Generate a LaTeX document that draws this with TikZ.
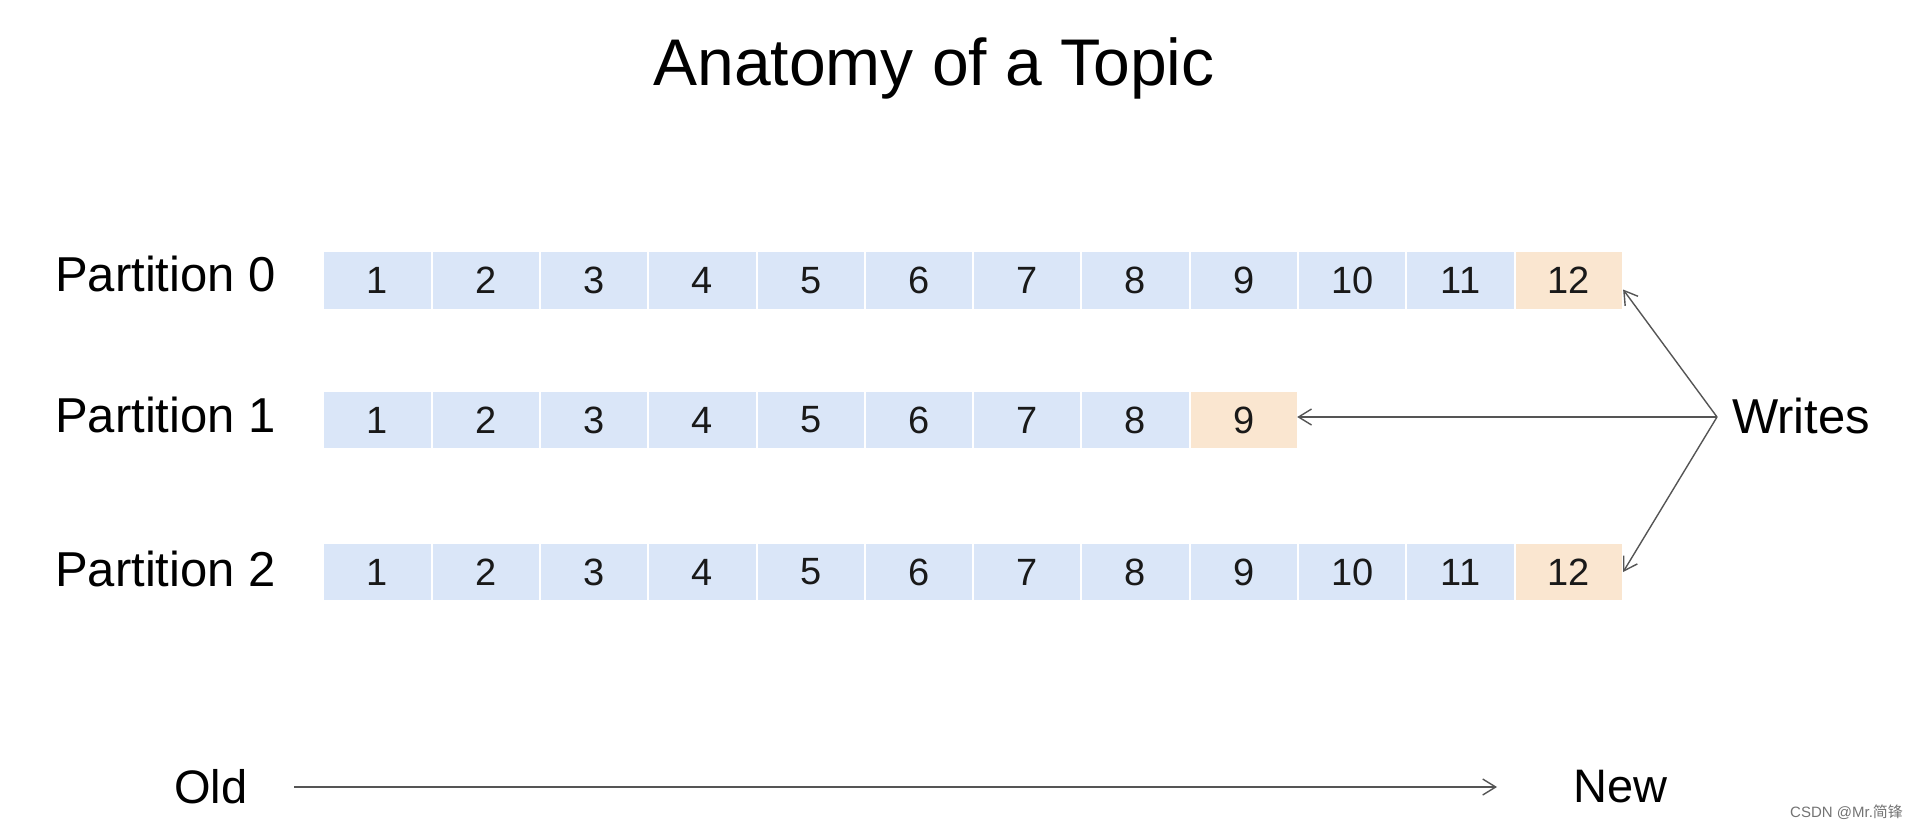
\documentclass[tikz,border=0pt]{standalone}
\usepackage{fontspec}
\setmainfont{Liberation Sans}
\newfontfamily\cjkfont{Noto Sans CJK SC}
\usetikzlibrary{arrows.meta,calc}
\definecolor{cellblue}{HTML}{DAE6F8}
\definecolor{cellorange}{HTML}{FAE6D0}
\definecolor{linegray}{HTML}{555555}
\begin{document}
\begin{tikzpicture}[x=1pt,y=-1pt,
  cell/.style={minimum width=106.3pt,minimum height=56.5pt,inner sep=0pt,fill=cellblue,
    font=\fontsize{38}{40}\selectfont,text=black!90},
  newcell/.style={cell,fill=cellorange},
  plabel/.style={inner sep=0pt,font=\fontsize{49}{52}\selectfont,text=black},
  wire/.style={draw=linegray,line width=1.4pt,-{Straight Barb[length=13pt,width=16pt,line width=1.4pt]}}
]
\useasboundingbox (0,0) rectangle (1913,830);

\node[inner sep=0pt,anchor=base,font=\fontsize{66}{70}\selectfont] (title) at (934,85) {Anatomy of a Topic};

% Partition 0
\node[plabel,anchor=west] (l0) at (55,274) {Partition 0};
\foreach \i in {1,...,11}
  \node[cell] (a\i) at ({377.45+(\i-1)*108.3},280.5) {\i};
\node[newcell] (a12) at ({377.45+11*108.3},280.5) {12};

% Partition 1
\node[plabel,anchor=west] (l1) at (55,415) {Partition 1};
\foreach \i in {1,...,8}
  \node[cell] (b\i) at ({377.45+(\i-1)*108.3},420) {\i};
\node[newcell] (b9) at ({377.45+8*108.3},420) {9};

% Partition 2
\node[plabel,anchor=west] (l2) at (55,569) {Partition 2};
\foreach \i in {1,...,11}
  \node[cell] (c\i) at ({377.45+(\i-1)*108.3},572) {\i};
\node[newcell] (c12) at ({377.45+11*108.3},572) {12};

% Writes
\node[plabel,anchor=west] (writes) at (1732,416) {Writes};
\coordinate (apex) at (1717,417);
\draw[wire] (apex) -- ($(a12.east)+(1,9)$);
\draw[wire] (apex) -- (apex -| b9.east);
\draw[wire] (apex) -- ($(c12.east)+(1,0)$);

% Old -> New
\node[plabel,anchor=west,font=\fontsize{47}{50}\selectfont] (old) at (174,787) {Old};
\node[plabel,anchor=west,font=\fontsize{47}{50}\selectfont] (new) at (1573,787) {New};
\coordinate (oldstart) at (294,787);
\coordinate (newend) at (1497,787);
\draw[wire] (oldstart) -- (newend);

% watermark
\node[inner sep=0pt,anchor=west,text=black!55,font=\fontsize{15}{16}\selectfont] (wm) at (1790,812) {CSDN @Mr.{\cjkfont 简锋}};
\end{tikzpicture}
\end{document}
